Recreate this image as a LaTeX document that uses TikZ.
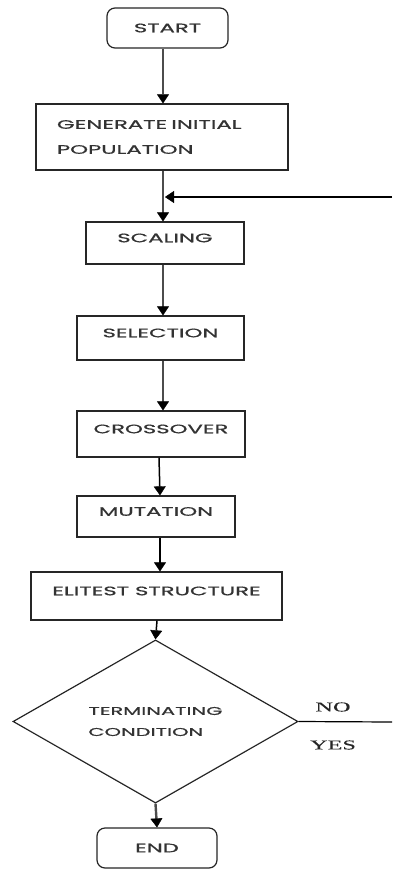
\documentclass[tikz,border=0pt]{standalone}
\usepackage{fontspec}
\usetikzlibrary{arrows.meta,shapes.geometric}
\newfontfamily\boxfont[FakeStretch=1.85,FakeBold=0.8]{Poppins}
\newfontfamily\serfont[FakeStretch=1.8,FakeBold=0.5]{Liberation Serif}
\begin{document}
\begin{tikzpicture}[x=1pt,y=-1pt,
  box/.style={draw=black!85, line width=1.2pt, fill=white, inner sep=0pt,
    font=\boxfont\fontsize{12.3}{25}\selectfont, text=black!80},
  rbox/.style={box, rounded corners=8pt},
  lift/.style={text height=8.5pt, text depth=10pt},
  tip/.style={-{Triangle[width=12pt,length=9pt,line width=0.4pt,color=black,fill=black]}},
  thick arrow/.style={draw=black!70, line width=2.4pt, tip},
  thin arrow/.style={draw=black, line width=1.5pt, tip},
  plain line/.style={draw=black, line width=1.2pt},
  lbl/.style={font=\serfont\fontsize{13.5}{15}\selectfont, text=black!85, inner sep=0pt}
]
\useasboundingbox (0,0) rectangle (392,872);

\node[rbox, minimum width=121pt, minimum height=40pt] (start) at (167.5,28) {START};
\node[box, minimum width=252pt, minimum height=66pt, align=left, text width=210pt] (gen) at (162,137) {GENERATE INITIAL\\POPULATION};
\node[box, lift, minimum width=158pt, minimum height=42pt] (scal) at (165,243) {SCALING};
\node[box, lift, minimum width=167pt, minimum height=44pt] (sel) at (160.5,338) {SELECTION};
\node[box, lift, minimum width=168pt, minimum height=46pt] (cross) at (161,434) {CROSSOVER};
\node[box, lift, minimum width=158pt, minimum height=41pt] (mut) at (156,516.5) {MUTATION};
\node[box, lift, minimum width=251pt, minimum height=48pt] (elit) at (156.5,596) {ELITEST STRUCTURE};
\node[diamond, draw=black!85, line width=1.2pt, inner sep=0pt, minimum width=285pt, minimum height=97pt,
  align=left, font=\boxfont\fontsize{11.3}{21}\selectfont, text=black!80] (dia) at (155.5,721.5) {TERMINATING\\CONDITION};
\node[rbox, minimum width=120pt, minimum height=40pt] (end) at (157,848) {END};

\node[lbl] (no) at (333,707) {NO};
\node[lbl] (yes) at (333,745) {YES};

\coordinate (loopin) at (392,197);
\coordinate (noend) at (392,722);

\draw[thick arrow] ([xshift=-4.5pt]start.south) -- ([xshift=1pt]gen.north);
\draw[thick arrow] ([xshift=1pt]gen.south) -- ([xshift=-2pt]scal.north);
\draw[thin arrow] (loopin) -- ([xshift=3pt]gen.south |- loopin);
\draw[thick arrow] ([xshift=-2pt]scal.south) -- ([xshift=2.5pt]sel.north);
\draw[thick arrow] ([xshift=2.5pt]sel.south) -- ([xshift=2pt]cross.north);
\draw[thin arrow] ([xshift=-2pt]cross.south) -- ([xshift=4pt]mut.north);
\draw[thin arrow] ([xshift=4pt]mut.south) -- ([xshift=3.5pt]elit.north);
\draw[thin arrow] ([xshift=0.5pt]elit.south) -- (dia.north);
\draw[plain line] (dia.east) -- (noend);
\draw[thick arrow] (dia.south) -- (end.north);
\end{tikzpicture}
\end{document}
